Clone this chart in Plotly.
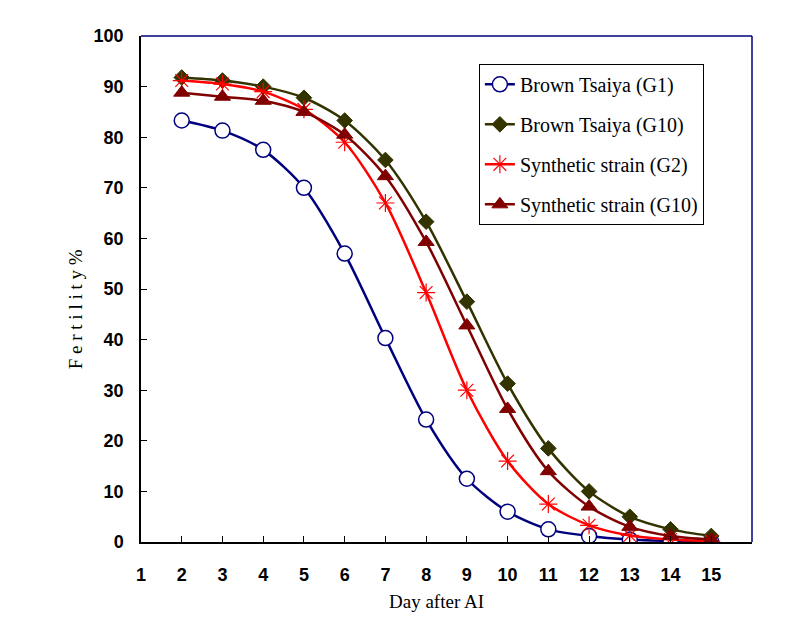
import plotly.graph_objects as go

days = [2, 3, 4, 5, 6, 7, 8, 9, 10, 11, 12, 13, 14, 15]
brown_g1 = [83.3, 81.3, 77.5, 70.0, 57.0, 40.3, 24.2, 12.5, 6.0, 2.5, 1.2, 0.5, 0.2, 0.1]
brown_g10 = [91.8, 91.2, 90.0, 87.8, 83.3, 75.5, 63.3, 47.5, 31.3, 18.5, 10.0, 5.0, 2.5, 1.2]
synth_g2 = [91.2, 90.5, 89.0, 85.5, 79.0, 67.0, 49.3, 30.0, 16.0, 7.5, 3.3, 1.3, 0.5, 0.2]
synth_g10 = [88.8, 88.0, 87.2, 85.0, 80.5, 72.3, 59.3, 42.8, 26.3, 14.0, 7.0, 3.0, 1.2, 0.5]

x_ticks = list(range(1, 16))
y_ticks = list(range(0, 101, 10))

SERIF = "Liberation Serif"
SANS = "Liberation Sans"

fig = go.Figure()

series = [
    ("Brown Tsaiya (G1)", brown_g1, "#00007f",
     dict(symbol="circle", size=15, color="white", line=dict(color="#00007f", width=1.5))),
    ("Brown Tsaiya (G10)", brown_g10, "#333300",
     dict(symbol="diamond", size=12, color="#333300", line=dict(color="#333300", width=1))),
    ("Synthetic strain (G2)", synth_g2, "#ff0000",
     dict(symbol="asterisk-open", size=15, color="#ff0000", line=dict(color="#ff0000", width=1.2))),
    ("Synthetic strain (G10)", synth_g10, "#800000",
     dict(symbol="triangle-up", size=14, color="#800000", line=dict(color="#800000", width=1))),
]

for i, (name, vals, col, mk) in enumerate(series):
    fig.add_trace(go.Scatter(
        x=days, y=vals, name=name, mode="lines+markers",
        line=dict(color=col, width=2.5, shape="spline", smoothing=0.8),
        marker=mk, legendgroup=f"g{i}",
    ))

fig.update_layout(
    width=786, height=630,
    margin=dict(l=133, r=42, t=28, b=96),
    paper_bgcolor="white", plot_bgcolor="white",
    showlegend=True,
    legend=dict(
        x=0.553, y=0.945, xanchor="left", yanchor="top",
        bgcolor="white", bordercolor="black", borderwidth=1,
        font=dict(family=SERIF, size=20, color="black"),
        tracegroupgap=11,
    ),
    xaxis=dict(
        range=[1, 16], tickvals=x_ticks, ticktext=[str(t) for t in x_ticks],
        showgrid=False, zeroline=False,
        showline=True, linecolor="black", linewidth=1.5, mirror=False,
        ticks="inside", ticklen=6, tickcolor="black",
        tickfont=dict(family=SANS, size=18, color="black", weight="bold"),
        ticklabelstandoff=16,
    ),
    yaxis=dict(
        range=[0, 100], tickvals=y_ticks,
        showgrid=False, zeroline=False,
        showline=True, linecolor="black", linewidth=1.5,
        ticks="inside", ticklen=6, tickcolor="black",
        tickfont=dict(family=SANS, size=18, color="black", weight="bold"),
        ticklabelstandoff=12,
    ),
    annotations=[
        dict(text="Day after AI", xref="paper", yref="paper", x=0.483, y=-0.117,
             xanchor="center", yanchor="middle", showarrow=False,
             font=dict(family=SERIF, size=19, color="black")),
        dict(text="F e r t i l i t y %", xref="paper", yref="paper", x=-0.108, y=0.46,
             xanchor="center", yanchor="middle", showarrow=False, textangle=-90,
             font=dict(family=SERIF, size=19, color="black")),
    ],
    shapes=[
        dict(type="line", xref="paper", yref="paper", x0=0, x1=1, y0=1, y1=1, line=dict(color="#00007f", width=1.5)),
        dict(type="line", xref="paper", yref="paper", x0=1, x1=1, y0=0, y1=1, line=dict(color="#00007f", width=1.5)),
    ],
)

fig.write_html("out.html")
